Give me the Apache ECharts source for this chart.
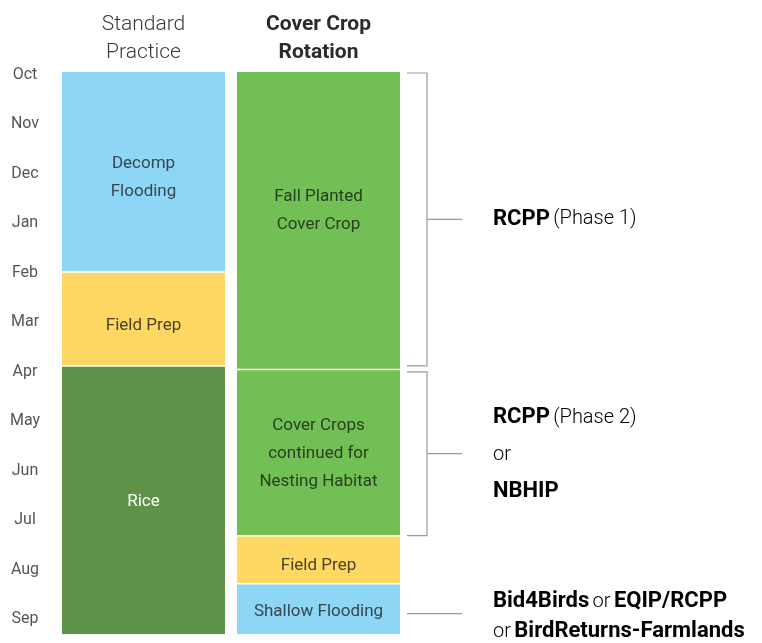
<!DOCTYPE html>
<html><head><meta charset="utf-8">
<script src="https://cdn.jsdelivr.net/npm/echarts@6/dist/echarts.min.js"></script>
<style>html,body{margin:0;padding:0;background:#fff}#c{width:762px;height:643px}</style>
</head><body><div id="c"></div>
<script>
// ---- data ----
const months = ['Oct','Nov','Dec','Jan','Feb','Mar','Apr','May','Jun','Jul','Aug','Sep'];
const monthPositions = [0,1,2,3,4,5,6,7,8,9,10,11];
const columns = ['Standard Practice','Cover Crop Rotation'];

const standardLabels = ['Decomp\nFlooding','Field Prep','Rice'];
const standardKinds  = ['flood','prep','rice'];
const standardStart  = [-0.06, 4.0, 5.9];
const standardEnd    = [4.0, 5.9, 11.3];

const coverLabels = ['Fall Planted\nCover Crop','Cover Crops\ncontinued for\nNesting Habitat','Field Prep','Shallow Flooding'];
const coverKinds  = ['cover','cover','prep','flood'];
const coverStart  = [-0.06, 5.97, 9.33, 10.3];
const coverEnd    = [5.97, 9.33, 10.3, 11.3];

const programStart = [-0.04, 6.0, 10.89];
const programEnd   = [5.88, 9.31, 10.89];
const programLabels = [
  '{b|RCPP} {n|(Phase 1)}',
  '{b|RCPP} {n|(Phase 2)}\n{n|or}\n{b|NBHIP}',
  '{b|Bid4Birds} {n|or} {b|EQIP/RCPP}\n{n|or} {b|BirdReturns-Farmlands}'
];

// ---- styles ----
const programLineHeights = [30, 37, 30];
const programTextShift = [0, 1, 3];
const standardTextShift = [6, 7, 1];
const coverTextShift = [-10, 1, 6, 2];
const kindColor = {flood:'#8dd6f5', prep:'#fed862', rice:'#5e9248', cover:'#72bf55'};
const kindText  = {flood:'#36474f', prep:'#4a4329', rice:'#ffffff', cover:'#283f20'};
const FONT = 'Roboto';
const axisMin = -0.06, axisMax = 11.3;

const blockData = [];
standardStart.forEach((s,i)=>blockData.push({value:[0,s,standardEnd[i]], label:standardLabels[i], kind:standardKinds[i], last:i===standardStart.length-1, shift:standardTextShift[i]}));
coverStart.forEach((s,i)=>blockData.push({value:[1,s,coverEnd[i]], label:coverLabels[i], kind:coverKinds[i], last:i===coverStart.length-1, shift:coverTextShift[i]}));

const progData = programStart.map((s,i)=>({value:[s,programEnd[i]], label:programLabels[i], lh:programLineHeights[i], shift:programTextShift[i]}));

const chart = echarts.init(document.getElementById('c'));
chart.setOption({
  animation:false,
  textStyle:{fontFamily:FONT},
  grid:{left:56, right:356, top:72, bottom:9},
  xAxis:{
    type:'category', data:columns, position:'top',
    axisLine:{show:false}, axisTick:{show:false}, splitLine:{show:false},
    axisLabel:{
      margin:5, interval:0,
      formatter:(v,i)=> i===0 ? '{n|Standard}\n{n|Practice}' : '{b|Cover Crop}\n{b|Rotation}',
      rich:{
        n:{fontFamily:FONT, fontSize:21, fontWeight:300, color:'#3a3a3a', lineHeight:28, align:'center'},
        b:{fontFamily:FONT, fontSize:21, fontWeight:'bold', color:'#2b2b2b', lineHeight:28, align:'center'}
      }
    }
  },
  yAxis:{
    type:'value', inverse:true, min:axisMin, max:axisMax,
    axisLine:{show:false}, axisTick:{show:false}, splitLine:{show:false},
    axisLabel:{
      customValues:monthPositions,
      formatter:v=>months[Math.round(v)],
      align:'center', margin:31, padding:[4,0,0,0],
      fontFamily:FONT, fontSize:16, color:'#555'
    }
  },
  series:[
    {
      type:'custom', silent:true,
      data:blockData,
      encode:{x:0, y:[1,2]},
      renderItem:(params, api)=>{
        const d = blockData[params.dataIndex];
        const col = api.value(0), s = api.value(1), e = api.value(2);
        const p0 = api.coord([col, s]);
        const p1 = api.coord([col, e]);
        const bw = api.size([1,0])[0];
        const w = bw - 12;
        const h = p1[1] - p0[1] - (d.last ? 0 : 1.5);
        return {
          type:'rect',
          shape:{x:p0[0]-w/2, y:p0[1], width:w, height:h},
          style:{fill:kindColor[d.kind]},
          textContent:{
            style:{text:d.label, fill:kindText[d.kind], fontFamily:FONT, fontSize:17, lineHeight:28, align:'center', verticalAlign:'middle'}
          },
          textConfig:{position:'inside', offset:[0, d.shift]}
        };
      }
    },
    {
      type:'custom', silent:true,
      data:progData,
      encode:{y:[0,1]},
      renderItem:(params, api)=>{
        const d = progData[params.dataIndex];
        const s = api.value(0), e = api.value(1);
        const gx = params.coordSys.x + params.coordSys.width;
        const y0 = api.coord([0, s])[1];
        const y1 = api.coord([0, e])[1];
        const ym = (y0 + y1) / 2;
        const children = [];
        const ls = {stroke:'#9a9a9a', lineWidth:1.2, fill:null};
        if (e > s) {
          children.push({type:'polyline', shape:{points:[[gx+1,y0],[gx+21,y0],[gx+21,y1],[gx+1,y1]]}, style:ls});
          children.push({type:'line', shape:{x1:gx+21, y1:ym, x2:gx+56, y2:ym}, style:ls});
        } else {
          children.push({type:'line', shape:{x1:gx+1, y1:ym, x2:gx+56, y2:ym}, style:ls});
        }
        children.push({
          type:'text', x:gx+87, y:ym + d.shift,
          style:{
            text:d.label, verticalAlign:'middle', align:'left',
            rich:{
              b:{fontFamily:FONT, fontSize:22, fontWeight:'bold', color:'#222', lineHeight:d.lh},
              n:{fontFamily:FONT, fontSize:20, fontWeight:300, color:'#333', lineHeight:d.lh}
            }
          }
        });
        return {type:'group', children};
      }
    }
  ]
});
</script>
</body></html>
